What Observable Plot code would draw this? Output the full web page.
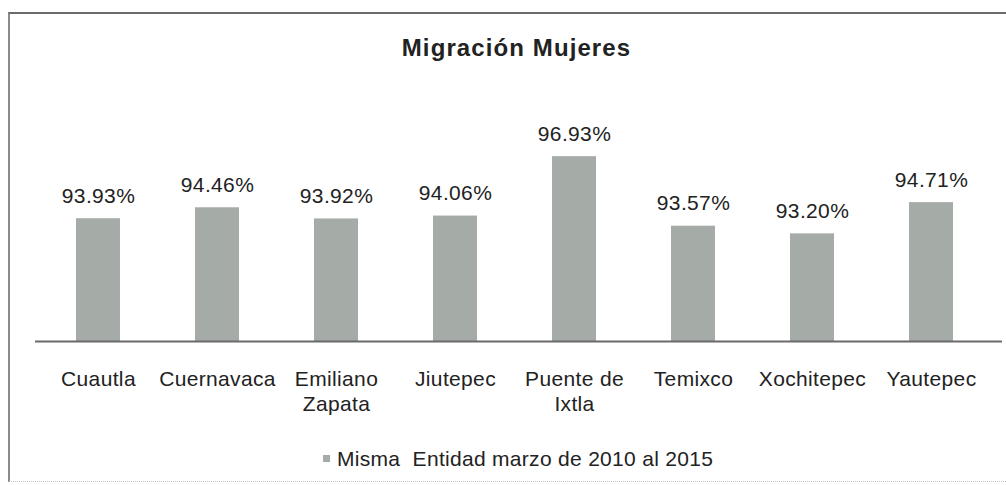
<!DOCTYPE html>
<html>
<head>
<meta charset="utf-8">
<script src="https://cdn.jsdelivr.net/npm/d3@7"></script>
<script src="https://cdn.jsdelivr.net/npm/@observablehq/plot@0.6"></script>
<style>
  html, body { margin: 0; padding: 0; background: #fff; }
  body { width: 1006px; height: 485px; position: relative; overflow: hidden; font-family: "Liberation Sans", Arial, sans-serif; color: #222; }
  #frame { position: absolute; left: 8px; top: 12px; width: 1020px; height: 467px; border-left: 2px solid #8a8a8a; border-top: 2px solid #6a6a6a; border-bottom: 1px dotted #c4c4c4; pointer-events: none; }
  #title { box-sizing: border-box; width: 1006px; height: 80px; padding-top: 36px; padding-left: 27px; text-align: center; font-weight: bold; font-size: 24px; line-height: 24px; letter-spacing: 1.1px; color: #222; }
  #legend { box-sizing: border-box; width: 1006px; height: 50px; padding-top: 14px; padding-left: 323px; font-size: 21px; line-height: 20px; letter-spacing: 0.3px; white-space: pre; color: #222; display: flex; }
  #legend .sw { display: inline-block; width: 7px; height: 7px; background: #a5aba7; margin-top: 6px; margin-right: 7px; }
  #chart svg { display: block; }
</style>
</head>
<body>
<div id="frame"></div>
<div id="title">Migración Mujeres</div>
<div id="chart"></div>
<div id="legend"><span class="sw"></span><span id="legend-text"></span></div>
<script>
const categories = ["Cuautla", "Cuernavaca", "Emiliano Zapata", "Jiutepec", "Puente de Ixtla", "Temixco", "Xochitepec", "Yautepec"];
const tickLabels = ["Cuautla", "Cuernavaca", "Emiliano\nZapata", "Jiutepec", "Puente de\nIxtla", "Temixco", "Xochitepec", "Yautepec"];
const values = [93.93, 94.46, 93.92, 94.06, 96.93, 93.57, 93.20, 94.71];
const seriesName = "Misma  Entidad marzo de 2010 al 2015";
const titleText = "Migración Mujeres";

document.getElementById("title").textContent = titleText;
document.getElementById("legend-text").textContent = seriesName;

const data = categories.map((c, i) => ({category: c, value: values[i]}));
const labelOf = new Map(categories.map((c, i) => [c, tickLabels[i]]));

const chart = Plot.plot({
  width: 1006,
  height: 355,
  marginLeft: 35,
  marginRight: 12,
  marginTop: 54,
  marginBottom: 94,
  style: {fontFamily: "'Liberation Sans', Arial, sans-serif", fontSize: "21px", letterSpacing: "0.35px", color: "#222", background: "transparent"},
  x: {domain: categories, paddingInner: 0.632, paddingOuter: 0.316, label: null},
  y: {domain: [88, 98], axis: null},
  marks: [
    Plot.barY(data, {x: "category", y1: 88, y2: "value", fill: "#a5aba7"}),
    Plot.ruleY([88], {stroke: "#6a6a6a", strokeWidth: 2, insetRight: -8}),
    Plot.text(data, {x: "category", y: "value", text: d => d.value.toFixed(2) + "%", lineAnchor: "bottom", dy: -16, fill: "#222", fontSize: 21}),
    Plot.axisX({tickSize: 0, tickPadding: 27, tickFormat: d => labelOf.get(d), fontSize: 21, lineHeight: 1.18, label: null, fill: "#222"})
  ]
});
document.getElementById("chart").appendChild(chart);
</script>
</body>
</html>
